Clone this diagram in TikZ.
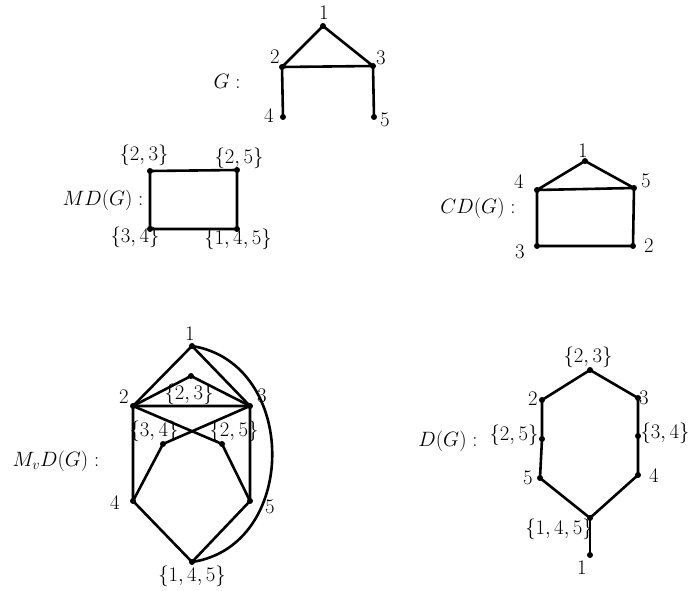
\documentclass[tikz,border=0pt]{standalone}
\begin{document}
\begin{tikzpicture}[x=1pt,y=-1pt,
  vtx/.style={circle,fill=black,inner sep=0pt,minimum size=6pt},
  lbl/.style={inner sep=0pt,font=\huge},
  edge/.style={line width=2.6pt,line join=round,line cap=round}]
\useasboundingbox[fill=white] (0,0) rectangle (689,591);
% ---------- G ----------
\node[vtx] (g1) at (323,26) {};
\node[vtx] (g2) at (282,67) {};
\node[vtx] (g3) at (373,66) {};
\node[vtx] (g4) at (283,117) {};
\node[vtx] (g5) at (374,117) {};
\draw[edge] (g2.center) -- (g1.center) -- (g3.center) -- (g2.center) -- (g4.center);
\draw[edge] (g3.center) -- (g5.center);
\node[lbl] (lg1) at (324,13) {$1$};
\node[lbl] (lg2) at (275,57) {$2$};
\node[lbl] (lg3) at (381,58) {$3$};
\node[lbl] (lg4) at (269,116) {$4$};
\node[lbl] (lg5) at (385,120) {$5$};
\node[lbl] (tg) at (227,81) {$G:$};
% ---------- MD(G) ----------
\node[vtx] (m23) at (150,171) {};
\node[vtx] (m25) at (237,170) {};
\node[vtx] (m34) at (150,229) {};
\node[vtx] (m145) at (237,229) {};
\draw[edge] (m23.center) -- (m25.center) -- (m145.center) -- (m34.center) -- cycle;
\node[lbl] (lm23) at (144,155) {$\{2,3\}$};
\node[lbl] (lm25) at (239,158) {$\{2,5\}$};
\node[lbl] (lm34) at (135,237) {$\{3,4\}$};
\node[lbl] (lm145) at (238,239) {$\{1,4,5\}$};
\node[lbl] (tmd) at (103,200) {$MD(G):$};
% ---------- CD(G) ----------
\node[vtx] (c1) at (585,161) {};
\node[vtx] (c4) at (537,190) {};
\node[vtx] (c5) at (634,188) {};
\node[vtx] (c3) at (537,246) {};
\node[vtx] (c2) at (633,246) {};
\draw[edge] (c4.center) -- (c1.center) -- (c5.center) -- (c4.center) -- (c3.center) -- (c2.center) -- (c5.center);
\node[lbl] (lc1) at (583,151) {$1$};
\node[lbl] (lc4) at (519,182) {$4$};
\node[lbl] (lc5) at (646,181) {$5$};
\node[lbl] (lc3) at (520,252) {$3$};
\node[lbl] (lc2) at (649,246) {$2$};
\node[lbl] (tcd) at (478,208) {$CD(G):$};
% ---------- M_vD(G) ----------
\node[vtx] (v1) at (192,346) {};
\node[vtx] (v23) at (191,376) {};
\node[vtx] (v2) at (133,406) {};
\node[vtx] (v3) at (250,406) {};
\node[vtx] (v34) at (163,444) {};
\node[vtx] (v25) at (222,444) {};
\node[vtx] (v4) at (133,501) {};
\node[vtx] (v5) at (250,501) {};
\node[vtx] (v145) at (192,562) {};
\draw[edge] (v2.center) -- (v1.center) -- (v3.center) -- (v2.center);
\draw[edge] (v2.center) -- (v23.center) -- (v3.center);
\draw[edge] (v2.center) -- (v25.center) -- (v5.center);
\draw[edge] (v3.center) -- (v34.center) -- (v4.center);
\draw[edge] (v2.center) -- (v4.center) -- (v145.center) -- (v5.center) -- (v3.center);
\draw[edge] (v1.center) .. controls (299,363) and (299,546) .. (v145.center);
\node[lbl] (lv1) at (190,334) {$1$};
\node[lbl] (lv23) at (189,394) {$\{2,3\}$};
\node[lbl] (lv2) at (124,397) {$2$};
\node[lbl] (lv3) at (262,396) {$3$};
\node[lbl] (lv34) at (154,431) {$\{3,4\}$};
\node[lbl] (lv25) at (234,431) {$\{2,5\}$};
\node[lbl] (lv4) at (115,503) {$4$};
\node[lbl] (lv5) at (270,507) {$5$};
\node[lbl] (lv145) at (192,576) {$\{1,4,5\}$};
\node[lbl] (tmv) at (56,461) {$M_vD(G):$};
% ---------- D(G) ----------
\node[vtx] (d23) at (590,370) {};
\node[vtx] (d2) at (542,400) {};
\node[vtx] (d3) at (638,398) {};
\node[vtx] (d25) at (542,439) {};
\node[vtx] (d34) at (638,436) {};
\node[vtx] (d5) at (540,478) {};
\node[vtx] (d4) at (638,475) {};
\node[vtx] (d145) at (590,518) {};
\node[vtx] (d1) at (590,555) {};
\draw[edge] (d23.center) -- (d2.center) -- (d25.center) -- (d5.center) -- (d145.center) -- (d4.center) -- (d34.center) -- (d3.center) -- (d23.center);
\draw[edge] (d145.center) -- (d1.center);
\node[lbl] (ld23) at (588,357) {$\{2,3\}$};
\node[lbl] (ld2) at (533,399) {$2$};
\node[lbl] (ld3) at (644,398) {$3$};
\node[lbl] (ld25) at (514,435) {$\{2,5\}$};
\node[lbl] (ld34) at (665,433) {$\{3,4\}$};
\node[lbl] (ld5) at (528,478) {$5$};
\node[lbl] (ld4) at (654,476) {$4$};
\node[lbl] (ld145) at (559,529) {$\{1,4,5\}$};
\node[lbl] (ld1) at (582,568) {$1$};
\node[lbl] (td) at (448,441) {$D(G):$};
\end{tikzpicture}
\end{document}
